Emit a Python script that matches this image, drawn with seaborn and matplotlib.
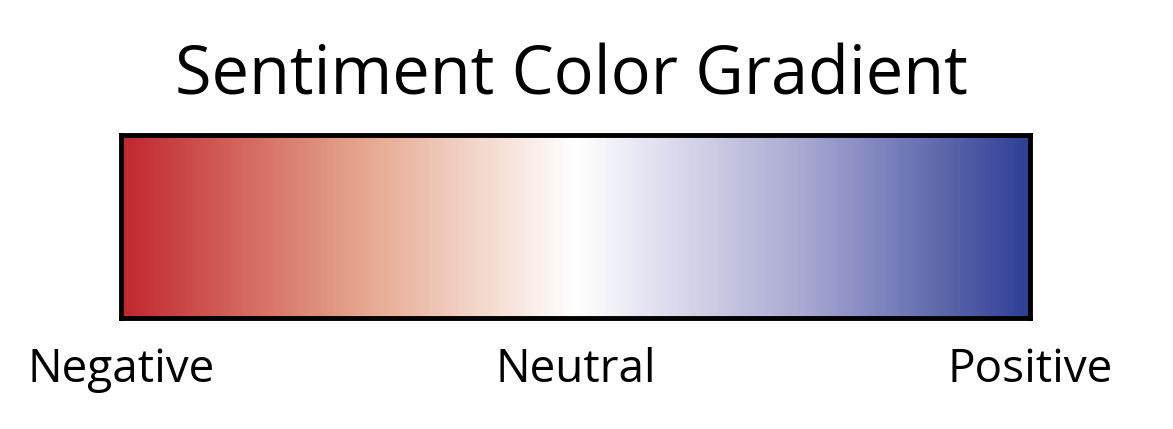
import numpy as np
import matplotlib
matplotlib.use("Agg")
import matplotlib.pyplot as plt
from matplotlib.colors import LinearSegmentedColormap
import seaborn as sns

title = "Sentiment Color Gradient"
tick_labels = ["Negative", "Neutral", "Positive"]
tick_values = [-1.0, 0.0, 1.0]
stop_positions = [0.0, 0.25, 0.5, 0.75, 1.0]
stop_colors = ["#c1272d", "#e3a086", "#ffffff", "#a9a9d2", "#2e3f94"]

sns.set_theme(style="white")
plt.rcParams['font.family'] = ['Open Sans', 'DejaVu Sans']

cmap = LinearSegmentedColormap.from_list("sent", list(zip(stop_positions, stop_colors)))
n = 600
grad = np.linspace(tick_values[0], tick_values[-1], n)[None, :]

fig = plt.figure(figsize=(11.73, 4.29), dpi=100)
ax = fig.add_axes([0.1032, 0.2587, 0.775, 0.4266])
sns.heatmap(grad, cmap=cmap, vmin=-1, vmax=1, cbar=False, ax=ax,
            xticklabels=False, yticklabels=False, rasterized=True)
for s in ax.spines.values():
    s.set_visible(True)
    s.set_color("black")
    s.set_linewidth(3.5)

xpos = [(v - tick_values[0]) / (tick_values[-1] - tick_values[0]) * n for v in tick_values]
ax.set_xticks(xpos)
ax.set_xticklabels(tick_labels, fontsize=33, color="black")
ax.tick_params(axis="x", length=0, pad=21)
ax.set_yticks([])

fig.text(0.4875, 0.82, title, ha="center", va="center", fontsize=48, color="black")
fig.savefig("out.png", dpi=100, facecolor="white")
